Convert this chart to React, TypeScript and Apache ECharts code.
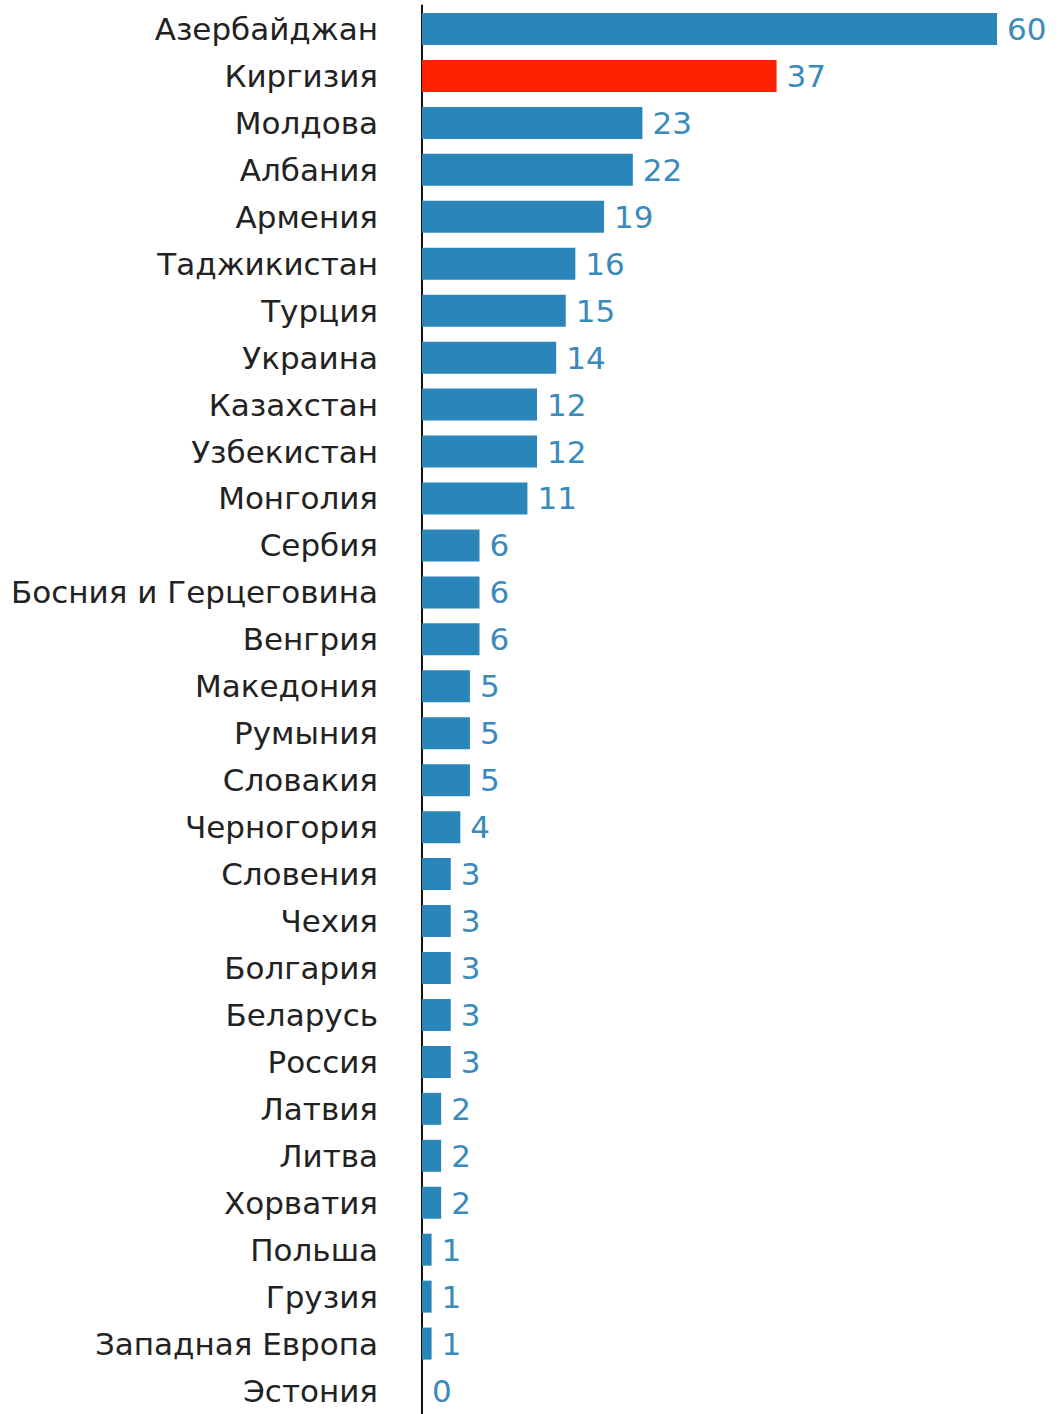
import React, { useEffect, useRef } from "react";
import * as echarts from "echarts";

const categories = [
  "Азербайджан", "Киргизия", "Молдова", "Албания", "Армения", "Таджикистан",
  "Турция", "Украина", "Казахстан", "Узбекистан", "Монголия", "Сербия",
  "Босния и Герцеговина", "Венгрия", "Македония", "Румыния", "Словакия",
  "Черногория", "Словения", "Чехия", "Болгария", "Беларусь", "Россия",
  "Латвия", "Литва", "Хорватия", "Польша", "Грузия", "Западная Европа", "Эстония",
];
const values = [60, 37, 23, 22, 19, 16, 15, 14, 12, 12, 11, 6, 6, 6, 5, 5, 5, 4, 3, 3, 3, 3, 3, 2, 2, 2, 1, 1, 1, 0];
const highlighted = ["Киргизия"];

const BLUE = "#2a86b8";
const RED = "#ff2200";
const FONT = "DejaVu Sans, sans-serif";

export default function App() {
  const ref = useRef<HTMLDivElement>(null);
  useEffect(() => {
    document.body.style.margin = "0";
    const chart = echarts.init(ref.current!, undefined, { renderer: "svg" });
    chart.setOption({
      animation: false,
      backgroundColor: "#ffffff",
      grid: { left: 422, right: 61, top: 5.5, height: 1410, containLabel: false },
      xAxis: {
        type: "value",
        min: 0,
        max: 60,
        show: false,
      },
      yAxis: {
        type: "category",
        data: categories,
        inverse: true,
        axisLine: { show: true, lineStyle: { color: "#111111", width: 2 } },
        axisTick: { show: false },
        splitLine: { show: false },
        axisLabel: {
          margin: 44,
          fontSize: 31,
          color: "#222222",
          fontFamily: FONT,
        },
      },
      series: [
        {
          type: "bar",
          data: values.map((v, i) => ({
            value: v,
            itemStyle: { color: highlighted.includes(categories[i]) ? RED : BLUE },
          })),
          barWidth: 32,
          label: {
            show: true,
            position: "right",
            distance: 10,
            fontSize: 31,
            color: "#3a8abb",
            fontFamily: FONT,
          },
        },
      ],
    });
    return () => chart.dispose();
  }, []);
  return <div ref={ref} style={{ width: 1058, height: 1414 }} />;
}
